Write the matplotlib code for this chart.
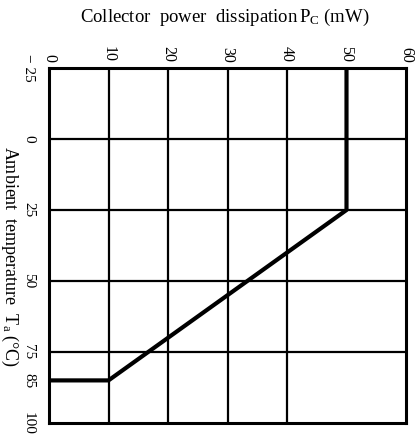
import matplotlib
matplotlib.use("Agg")
import matplotlib.pyplot as plt

plt.rcParams['font.family'] = ['Liberation Serif', 'DejaVu Serif']
plt.rcParams['mathtext.fontset'] = 'custom'
plt.rcParams['mathtext.rm'] = 'Liberation Serif'
plt.rcParams['mathtext.it'] = 'Liberation Serif'

# derating curve: collector power (mW) vs ambient temperature (C)
pc_curve = [0, 10, 50, 50]
ta_curve = [85, 85, 25, -25]

pc_ticks = [0, 10, 20, 30, 40, 50, 60]
ta_ticks = [-25, 0, 25, 50, 75, 85, 100]
ta_labels = ['− 25', '0', '25', '50', '75', '85', '100']
pc_grid = [10, 20, 30, 40]
ta_grid = [0, 25, 50, 75]

fig = plt.figure(figsize=(4.17, 4.4), dpi=100)
ax = fig.add_axes([49 / 417, 17 / 440, 357 / 417, 355 / 440])

for p in pc_grid:
    ax.axvline(p, color='black', lw=1.6)
for t in ta_grid:
    ax.axhline(t, color='black', lw=1.6)

ax.plot(pc_curve, ta_curve, color='black', lw=3, solid_capstyle='butt')

ax.set_xlim(0, 60)
ax.set_ylim(100, -25)
for s in ax.spines.values():
    s.set_linewidth(2.2)

ax.xaxis.tick_top()
ax.set_xticks(pc_ticks)
ax.set_xticklabels([str(v) for v in pc_ticks], rotation=-90, fontsize=11.5)
ax.set_yticks(ta_ticks)
ax.set_yticklabels(ta_labels, rotation=-90, fontsize=11, va='center')
ax.tick_params(axis='x', length=0, pad=4)
ax.tick_params(axis='y', length=0, pad=10)

fig.text(0.54, 0.96, r'Collector  power  dissipation$\,$P$_\mathrm{C}$ (mW)',
         ha='center', va='center', fontsize=13.5)
fig.text(0.022, 0.418, r'Ambient  temperature  T$_\mathrm{a}$ (°C)',
         ha='center', va='center', fontsize=13, rotation=-90)

fig.savefig('out.png', dpi=100)
